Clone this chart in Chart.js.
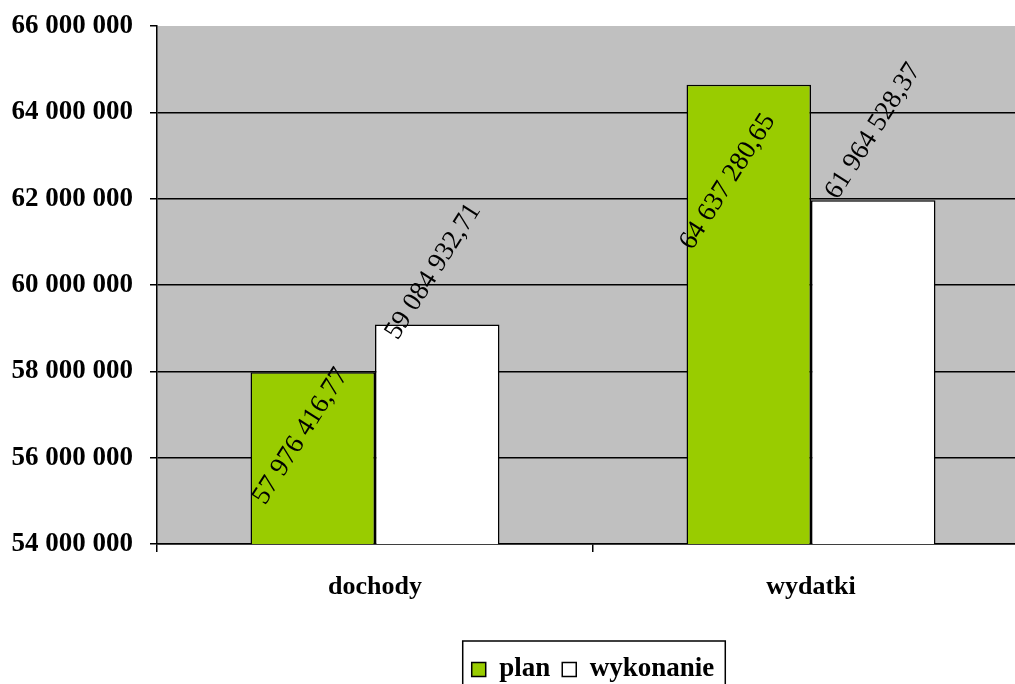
<!DOCTYPE html>
<html>
<head>
<meta charset="utf-8">
<script src="https://cdn.jsdelivr.net/npm/chart.js@4.4.1/dist/chart.umd.min.js"></script>
<style>
  html, body { margin: 0; padding: 0; background: #fff; overflow: hidden; }
  #wrap { position: relative; width: 1040px; height: 693px; }
</style>
</head>
<body>
<div id="wrap"><canvas id="chart"></canvas></div>
<script>
const categories = ['dochody', 'wydatki'];
const planValues = [57976416.77, 64637280.65];
const wykonanieValues = [59084932.71, 61964528.37];
const seriesNames = ['plan', 'wykonanie'];

const FONT = '"Liberation Serif", "Times New Roman", serif';

function fmtNum(v, decimals) {
  const parts = v.toFixed(decimals).split('.');
  const intPart = parts[0].replace(/\B(?=(\d{3})+(?!\d))/g, ' ');
  return parts[1] ? intPart + ',' + parts[1] : intPart;
}

// label offsets relative to bar top, per dataset / per category
const labelShift = [
  [[-12, 64], [-21, 97]],
  [[-4, -53], [0, -69]]
];

const plotBg = {
  id: 'plotBg',
  beforeDraw(chart) {
    const { ctx, chartArea: a } = chart;
    ctx.save();
    ctx.fillStyle = '#C0C0C0';
    ctx.fillRect(a.left, a.top, a.right - a.left, a.bottom - a.top);
    ctx.restore();
  }
};

const valueLabels = {
  id: 'valueLabels',
  afterDatasetsDraw(chart) {
    const { ctx } = chart;
    ctx.save();
    ctx.font = '27px ' + FONT;
    ctx.fillStyle = '#000';
    ctx.textAlign = 'center';
    ctx.textBaseline = 'middle';
    chart.data.datasets.forEach((ds, i) => {
      chart.getDatasetMeta(i).data.forEach((bar, j) => {
        const [dx, dy] = labelShift[i][j];
        ctx.save();
        ctx.translate(bar.x + dx, bar.y + dy);
        ctx.rotate(-57.5 * Math.PI / 180);
        ctx.fillText(fmtNum(ds.data[j], 2), 0, 0);
        ctx.restore();
      });
    });
    ctx.restore();
  }
};

const legendBox = {
  id: 'legendBox',
  afterDraw(chart) {
    const boxes = chart.legend && chart.legend.legendHitBoxes;
    if (!boxes || !boxes.length) return;
    const left = Math.min(...boxes.map(b => b.left)) - 9;
    const right = Math.max(...boxes.map(b => b.left + b.width)) + 11;
    const top = Math.min(...boxes.map(b => b.top)) - 15;
    const bottom = Math.max(...boxes.map(b => b.top + b.height)) + 15;
    const { ctx } = chart;
    ctx.save();
    ctx.strokeStyle = '#000';
    ctx.lineWidth = 1.5;
    ctx.strokeRect(left, top, right - left, bottom - top);
    ctx.restore();
  }
};

new Chart(document.getElementById('chart').getContext('2d'), {
  type: 'bar',
  data: {
    labels: categories,
    datasets: [
      {
        label: seriesNames[0],
        data: planValues,
        backgroundColor: '#99CC00',
        borderColor: '#000',
        borderWidth: 1.5,
        borderSkipped: false
      },
      {
        label: seriesNames[1],
        data: wykonanieValues,
        backgroundColor: '#FFFFFF',
        borderColor: '#000',
        borderWidth: 1.5,
        borderSkipped: false
      }
    ]
  },
  options: {
    responsive: true,
    maintainAspectRatio: false,
    animation: false,
    layout: { padding: { left: 0, right: 11, top: 26, bottom: 0 } },
    datasets: { bar: { categoryPercentage: 0.571, barPercentage: 1 } },
    scales: {
      x: {
        offset: true,
        grid: {
          display: true,
          offset: true,
          drawOnChartArea: false,
          tickLength: 8,
          color: '#000',
          lineWidth: 1.5
        },
        border: { display: true, color: '#000', width: 1.5 },
        ticks: {
          color: '#000',
          padding: 20,
          font: { family: FONT, size: 26, weight: 'bold' }
        },
        afterFit(scale) { scale.height = 100; }
      },
      y: {
        min: 54000000,
        max: 66000000,
        grid: {
          color: ctx => (ctx.tick && ctx.tick.value === 66000000 ? 'rgba(0,0,0,0)' : '#000'),
          tickColor: '#000',
          lineWidth: 1.5,
          tickLength: 7
        },
        border: { display: true, color: '#000', width: 1.5 },
        ticks: {
          stepSize: 2000000,
          color: '#000',
          padding: 17,
          font: { family: FONT, size: 27, weight: 'bold' },
          callback: v => fmtNum(v, 0)
        },
        afterFit(scale) {
          scale.width = 157;
          scale.paddingTop = 0;
          scale.paddingBottom = 0;
        }
      }
    },
    plugins: {
      legend: {
        position: 'bottom',
        fullSize: false,
        labels: {
          color: '#000',
          boxWidth: 14,
          boxHeight: 14,
          padding: 12,
          font: { family: FONT, size: 27, weight: 'bold' },
          generateLabels(chart) {
            return chart.data.datasets.map((ds, i) => ({
              text: ds.label,
              fillStyle: ds.backgroundColor,
              strokeStyle: '#000',
              lineWidth: 1.5,
              fontColor: '#000',
              datasetIndex: i,
              hidden: false
            }));
          }
        }
      },
      tooltip: { enabled: false }
    }
  },
  plugins: [plotBg, valueLabels, legendBox]
});
</script>
</body>
</html>
